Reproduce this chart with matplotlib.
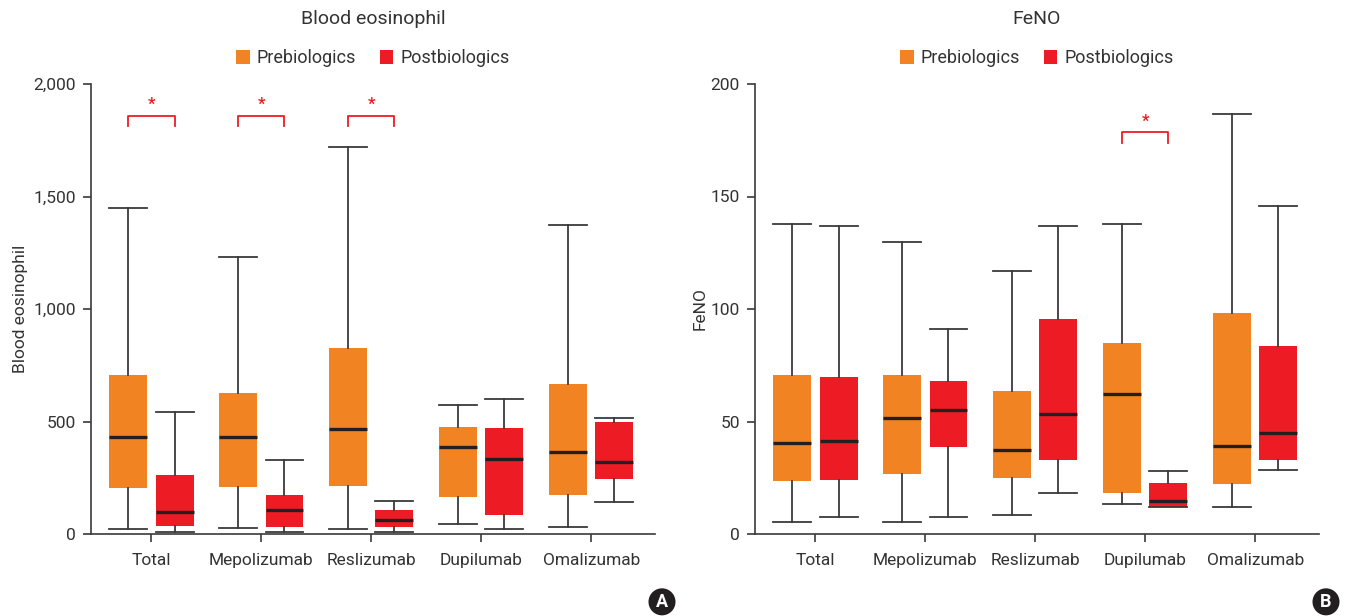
import numpy as np
import matplotlib
matplotlib.use('Agg')
import matplotlib.pyplot as plt
from matplotlib.patches import Patch
from matplotlib.ticker import FuncFormatter

plt.rcParams['font.family'] = ['Roboto', 'DejaVu Sans']

ORANGE = '#F28322'
RED = '#ED1C24'
DARK = '#231F20'
AXIS = '#3a3a3a'

drugs = ['Total', 'Mepolizumab', 'Reslizumab', 'Dupilumab', 'Omalizumab']

# blood eosinophil: whisker low, Q1, median, Q3, whisker high
eos_pre_lo = [22, 25, 22, 45, 33]
eos_pre_q1 = [203, 211, 215, 166, 175]
eos_pre_med = [432, 432, 466, 387, 365]
eos_pre_q3 = [708, 628, 828, 476, 668]
eos_pre_hi = [1450, 1233, 1718, 574, 1375]
eos_post_lo = [9, 9, 9, 22, 144]
eos_post_q1 = [37, 33, 33, 86, 246]
eos_post_med = [97, 107, 62, 332, 322]
eos_post_q3 = [263, 174, 107, 472, 498]
eos_post_hi = [544, 329, 148, 602, 516]
eos_sig = ['Total', 'Mepolizumab', 'Reslizumab']

# FeNO
feno_pre_lo = [5.3, 5.3, 8.3, 13.3, 12.1]
feno_pre_q1 = [23.7, 26.7, 25.0, 18.2, 22.4]
feno_pre_med = [40.3, 51.4, 37.3, 62.2, 39.0]
feno_pre_q3 = [70.7, 70.7, 63.6, 84.9, 98.2]
feno_pre_hi = [138, 130, 117, 138, 186.7]
feno_post_lo = [7.4, 7.4, 18.2, 12.1, 28.3]
feno_post_q1 = [24.1, 38.8, 33.0, 12.1, 33.0]
feno_post_med = [41.3, 55.3, 53.3, 14.5, 44.7]
feno_post_q3 = [69.8, 67.9, 95.6, 22.5, 83.6]
feno_post_hi = [137, 91, 137, 28.1, 145.8]
feno_sig = ['Dupilumab']


def make_stats(lo, q1, med, q3, hi):
    return [dict(whislo=a, q1=b, med=c, q3=d, whishi=e, fliers=[])
            for a, b, c, d, e in zip(lo, q1, med, q3, hi)]


def draw_panel(ax, pre, post, sig, title, ylabel, ymax, yticks, fmt,
               bracket_y, bracket_h, letter, letter_x, ylabel_pad):
    x = np.arange(len(drugs))
    off, w = 0.21, 0.345
    for stats, color, dx in [(pre, ORANGE, -off), (post, RED, off)]:
        ax.bxp(stats, positions=x + dx, widths=w, patch_artist=True,
               showfliers=False,
               boxprops=dict(facecolor=color, edgecolor='none', linewidth=0),
               medianprops=dict(color=DARK, linewidth=2.4, solid_capstyle='butt'),
               whiskerprops=dict(color=AXIS, linewidth=1.3),
               capprops=dict(color=AXIS, linewidth=1.3),
               capwidths=w, zorder=2)

    # significance brackets between pre and post
    for name in sig:
        i = drugs.index(name)
        x0, x1 = i - off, i + off
        ax.plot([x0, x0, x1, x1],
                [bracket_y - bracket_h, bracket_y, bracket_y, bracket_y - bracket_h],
                color=RED, linewidth=1.3, clip_on=False)
        ax.text(i, bracket_y + bracket_h * 0.3, '*', color=RED, ha='center',
                va='bottom', fontsize=12, fontweight='bold')

    ax.set_xlim(-0.55, len(drugs) - 1 + 0.58)
    ax.set_ylim(0, ymax)
    ax.set_xticks(x)
    ax.set_xticklabels(drugs, fontsize=12.5, color='#333333')
    ax.set_yticks(yticks)
    ax.yaxis.set_major_formatter(FuncFormatter(fmt))
    ax.tick_params(axis='both', colors=AXIS, labelcolor='#333333',
                   length=6, width=1.2, labelsize=12.5)
    ax.tick_params(axis='x', pad=8)
    ax.tick_params(axis='y', pad=5)
    for s in ['top', 'right']:
        ax.spines[s].set_visible(False)
    for s in ['left', 'bottom']:
        ax.spines[s].set_color(AXIS)
        ax.spines[s].set_linewidth(1.2)
    ax.set_ylabel(ylabel, fontsize=12.5, color='#333333', labelpad=ylabel_pad)

    ax.text(0.5, 1.145, title, transform=ax.transAxes, ha='center',
            va='center', fontsize=14, color='#333333')
    handles = [Patch(facecolor=ORANGE, edgecolor='none', label='Prebiologics'),
               Patch(facecolor=RED, edgecolor='none', label='Postbiologics')]
    ax.legend(handles=handles, loc='center', bbox_to_anchor=(0.5, 1.057),
              ncol=2, frameon=False, fontsize=13, handlelength=0.75,
              handleheight=0.75, handletextpad=0.4, columnspacing=1.3,
              labelcolor='#333333')

    fig.text(letter_x, 0.023, letter, ha='center', va='center', color='white',
             fontsize=13, fontweight='bold',
             bbox=dict(boxstyle='circle,pad=0.25', fc=DARK, ec='none'))


fig = plt.figure(figsize=(13.46, 6.16), dpi=100)
ax_a = fig.add_axes([91 / 1346, 1 - 534 / 616, 564 / 1346, 450 / 616])
ax_b = fig.add_axes([755 / 1346, 1 - 534 / 616, 564 / 1346, 450 / 616])

draw_panel(ax_a,
           make_stats(eos_pre_lo, eos_pre_q1, eos_pre_med, eos_pre_q3, eos_pre_hi),
           make_stats(eos_post_lo, eos_post_q1, eos_post_med, eos_post_q3, eos_post_hi),
           eos_sig, 'Blood eosinophil', 'Blood eosinophil', 2000,
           [0, 500, 1000, 1500, 2000], lambda v, p: '{:,.0f}'.format(v),
           1860, 48, 'A', 662 / 1346, 4)
draw_panel(ax_b,
           make_stats(feno_pre_lo, feno_pre_q1, feno_pre_med, feno_pre_q3, feno_pre_hi),
           make_stats(feno_post_lo, feno_post_q1, feno_post_med, feno_post_q3, feno_post_hi),
           feno_sig, 'FeNO', 'FeNO', 200,
           [0, 50, 100, 150, 200], lambda v, p: '{:.0f}'.format(v),
           178.8, 4.8, 'B', 1326 / 1346, 2)

fig.savefig('out.png', dpi=100)
